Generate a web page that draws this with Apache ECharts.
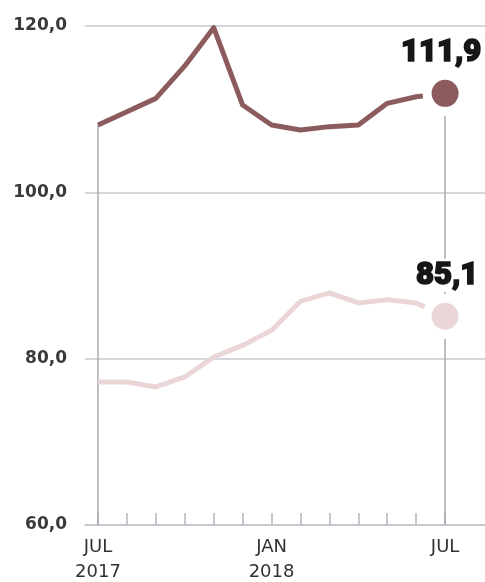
<!DOCTYPE html>
<html>
<head>
<meta charset="utf-8">
<script src="https://cdn.jsdelivr.net/npm/echarts@6/dist/echarts.min.js"></script>
<style>html,body{margin:0;padding:0;background:#fff}#c{width:485px;height:582px}</style>
</head>
<body>
<div id="c"></div>
<script>
var months = ['2017-07','2017-08','2017-09','2017-10','2017-11','2017-12','2018-01','2018-02','2018-03','2018-04','2018-05','2018-06','2018-07'];
var darkValues = [108.1, 109.7, 111.3, 115.2, 119.8, 110.5, 108.1, 107.5, 107.9, 108.1, 110.7, 111.5, 111.9];
var lightValues = [77.2, 77.2, 76.6, 77.8, 80.2, 81.6, 83.4, 86.9, 87.9, 86.7, 87.1, 86.7, 85.1];
var xLabelIndex = [0, 6, 12];
var xLabels = ['JUL\n2017', 'JAN\n2018', 'JUL'];
var yTicks = [60, 80, 100, 120];

var DARK = '#8b5b5d';
var LIGHT = '#ebd6d7';
var last = months.length - 1;
function pairs(arr){ return arr.map(function(v,i){ return [i, v]; }); }
function fmt(v){ return v.toFixed(1).replace('.', ','); }

var chart = echarts.init(document.getElementById('c'), null, {renderer:'canvas'});
chart.setOption({
  animation: false,
  grid: { left: 85, right: 0, top: 26, bottom: 57, containLabel: false, outerBoundsMode: 'none' },
  xAxis: {
    type: 'value', min: -0.45, max: 13.38,
    splitLine: { show: false },
    axisLine: { show: true, lineStyle: { color: '#c3c5cb', width: 1.5 } },
    axisTick: { show: true, inside: true, length: 12, customValues: months.map(function(m,i){return i;}), lineStyle: { color: '#b4b6bc', width: 1.5 } },
    axisLabel: {
      customValues: xLabelIndex,
      formatter: function(v){ var k = xLabelIndex.indexOf(Math.round(v)); return k >= 0 ? xLabels[k] : ''; },
      color: '#333', fontFamily: 'DejaVu Sans', fontSize: 18, lineHeight: 25, margin: 10, align: 'center'
    }
  },
  yAxis: {
    type: 'value', min: yTicks[0], max: yTicks[yTicks.length-1], interval: 20,
    axisLine: { show: false }, axisTick: { show: false },
    splitLine: { show: true, lineStyle: { color: '#c8cad0', width: 1.5 } },
    axisLabel: { formatter: fmt, color: '#3a3a3a', fontFamily: 'DejaVu Sans', fontWeight: 'bold', fontSize: 17, margin: 18 }
  },
  series: [
    {
      type: 'line', data: pairs(lightValues), symbol: 'none', z: 3,
      lineStyle: { color: LIGHT, width: 5, join: 'round' }
    },
    {
      type: 'line', data: pairs(darkValues), symbol: 'none', z: 4,
      lineStyle: { color: DARK, width: 5, join: 'round' },
      markLine: {
        silent: true, symbol: 'none', label: { show: false }, z: 2,
        lineStyle: { color: '#a9abb1', width: 1.5, type: 'solid' },
        data: [
          [ { coord: [0, yTicks[0]] }, { coord: [0, darkValues[0]] } ],
          [ { coord: [last, yTicks[0]] }, { coord: [last, darkValues[last]] } ]
        ]
      }
    },
    {
      type: 'scatter', z: 6, symbolSize: 36,
      data: [
        { value: [last, darkValues[last]], itemStyle: { color: DARK },
          label: { offset: [-4, 0] } },
        { value: [last, lightValues[last]], itemStyle: { color: LIGHT },
          label: { offset: [2, 0] } }
      ],
      itemStyle: { borderColor: '#fff', borderWidth: 9, opacity: 1 },
      label: {
        show: true, position: 'top', distance: 2,
        formatter: function(p){ return fmt(p.value[1]); },
        color: '#161616', fontFamily: 'Roboto', fontWeight: 900, fontSize: 31,
        textBorderColor: '#161616', textBorderWidth: 1.6,
        backgroundColor: '#fff', padding: [2, 2, 0, 2]
      }
    }
  ]
});
</script>
</body>
</html>
